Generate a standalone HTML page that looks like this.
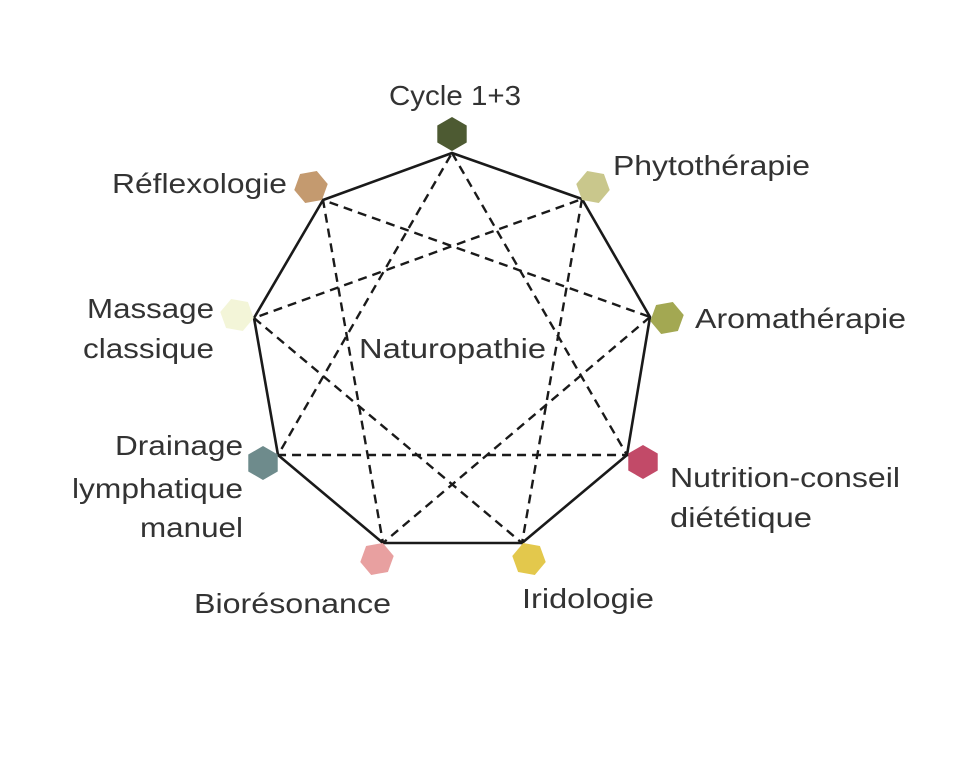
<!DOCTYPE html>
<html><head><meta charset="utf-8"><style>
html,body{margin:0;padding:0;background:#fff;}
svg text{font-family:"Liberation Sans",sans-serif;font-size:28px;fill:#333;font-weight:normal;}
</style></head><body>
<svg width="979" height="754" viewBox="0 0 979 754" xmlns="http://www.w3.org/2000/svg">
<g fill="none" stroke="#1a1a1a" stroke-width="2.4" stroke-dasharray="9,6">
<polygon points="452,153 627,455 278,455"/>
<polygon points="582,199 522,543 254,318"/>
<polygon points="650,317 383,543 323,200"/>
</g>
<polygon fill="none" stroke="#1a1a1a" stroke-width="2.6" stroke-linejoin="round" points="452,153 582,199 650,317 627,455 522,543 383,543 278,455 254,318 323,200"/>
<g>
<polygon transform="translate(452,134) rotate(0)" fill="#4d5a32" points="0,-17 14.7,-8.5 14.7,8.5 0,17 -14.7,8.5 -14.7,-8.5"/>
<polygon transform="translate(593,187) rotate(40)" fill="#c9c78c" points="0,-17 14.7,-8.5 14.7,8.5 0,17 -14.7,8.5 -14.7,-8.5"/>
<polygon transform="translate(667,318) rotate(80)" fill="#a3a852" points="0,-17 14.7,-8.5 14.7,8.5 0,17 -14.7,8.5 -14.7,-8.5"/>
<polygon transform="translate(643,462) rotate(120)" fill="#c24a68" points="0,-17 14.7,-8.5 14.7,8.5 0,17 -14.7,8.5 -14.7,-8.5"/>
<polygon transform="translate(529,559) rotate(160)" fill="#e3c84c" points="0,-17 14.7,-8.5 14.7,8.5 0,17 -14.7,8.5 -14.7,-8.5"/>
<polygon transform="translate(377,559) rotate(200)" fill="#e8a0a0" points="0,-17 14.7,-8.5 14.7,8.5 0,17 -14.7,8.5 -14.7,-8.5"/>
<polygon transform="translate(263,463) rotate(240)" fill="#6e8b8c" points="0,-17 14.7,-8.5 14.7,8.5 0,17 -14.7,8.5 -14.7,-8.5"/>
<polygon transform="translate(237,315) rotate(280)" fill="#f3f5d8" points="0,-17 14.7,-8.5 14.7,8.5 0,17 -14.7,8.5 -14.7,-8.5"/>
<polygon transform="translate(311,187) rotate(320)" fill="#c49a6f" points="0,-17 14.7,-8.5 14.7,8.5 0,17 -14.7,8.5 -14.7,-8.5"/>
</g>
<text x="389" y="105" textLength="132" lengthAdjust="spacingAndGlyphs">Cycle 1+3</text>
<text x="613" y="175" textLength="197" lengthAdjust="spacingAndGlyphs">Phytothérapie</text>
<text x="112" y="193" textLength="175" lengthAdjust="spacingAndGlyphs">Réflexologie</text>
<text x="695" y="328" textLength="211" lengthAdjust="spacingAndGlyphs">Aromathérapie</text>
<text x="87" y="318" textLength="127" lengthAdjust="spacingAndGlyphs">Massage</text>
<text x="83" y="358" textLength="131" lengthAdjust="spacingAndGlyphs">classique</text>
<text x="359" y="358" textLength="187" lengthAdjust="spacingAndGlyphs">Naturopathie</text>
<text x="115" y="455" textLength="128" lengthAdjust="spacingAndGlyphs">Drainage</text>
<text x="72" y="498" textLength="171" lengthAdjust="spacingAndGlyphs">lymphatique</text>
<text x="140" y="537" textLength="103" lengthAdjust="spacingAndGlyphs">manuel</text>
<text x="670" y="487" textLength="230" lengthAdjust="spacingAndGlyphs">Nutrition-conseil</text>
<text x="670" y="527" textLength="142" lengthAdjust="spacingAndGlyphs">diététique</text>
<text x="194" y="613" textLength="197" lengthAdjust="spacingAndGlyphs">Biorésonance</text>
<text x="522" y="608" textLength="132" lengthAdjust="spacingAndGlyphs">Iridologie</text>
</svg>
</body></html>
